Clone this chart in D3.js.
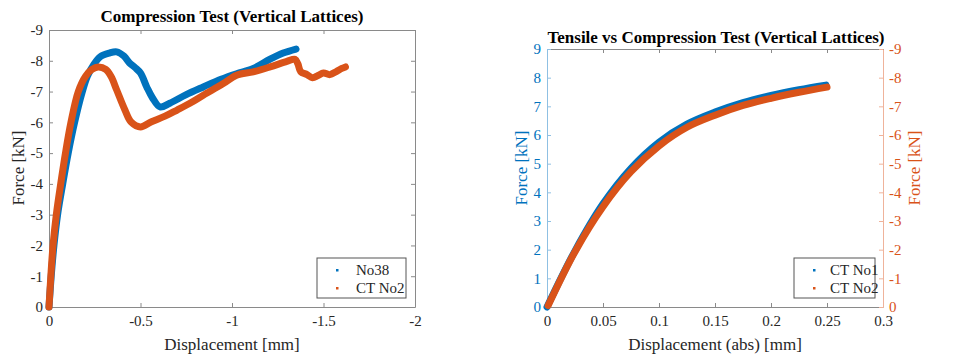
<!DOCTYPE html>
<html>
<head>
<meta charset="utf-8">
<script src="https://cdn.jsdelivr.net/npm/d3@7"></script>
<style>
  body { margin: 0; background: #fff; }
  svg { font-family: "Liberation Serif", "Times New Roman", serif; }
</style>
</head>
<body>
<svg id="chart" width="967" height="358"></svg>
<script>
// ---- data ----
// left: compression test, displacement [mm] vs force [kN] (both negative)
let no38Disp  = [0, -0.012, -0.027, -0.047, -0.075, -0.105, -0.14, -0.18, -0.21, -0.245, -0.28, -0.33, -0.37, -0.41, -0.44, -0.47, -0.5, -0.534, -0.565, -0.607, -0.66, -0.75, -0.843, -0.94, -1.025, -1.116, -1.208, -1.28, -1.35];
let no38Force = [0, -1, -2, -3, -4, -5, -6, -6.95, -7.5, -7.88, -8.13, -8.25, -8.29, -8.15, -7.93, -7.78, -7.6, -7.15, -6.8, -6.5, -6.62, -6.9, -7.15, -7.4, -7.58, -7.75, -8.05, -8.25, -8.38];
let ct2CompDisp  = [0, -0.01, -0.022, -0.04, -0.064, -0.09, -0.12, -0.16, -0.2, -0.235, -0.27, -0.31, -0.34, -0.37, -0.415, -0.45, -0.5, -0.56, -0.634, -0.7, -0.77, -0.843, -0.95, -1.025, -1.116, -1.208, -1.3, -1.344, -1.36, -1.375, -1.41, -1.44, -1.47, -1.5, -1.535, -1.57, -1.6, -1.62];
let ct2CompForce = [0, -1, -2, -3, -4, -5, -6, -7, -7.5, -7.72, -7.8, -7.72, -7.48, -7.05, -6.4, -6.0, -5.85, -6.02, -6.2, -6.4, -6.62, -6.88, -7.25, -7.53, -7.64, -7.8, -7.98, -8.05, -7.9, -7.65, -7.55, -7.45, -7.52, -7.6, -7.55, -7.65, -7.75, -7.8];

// right: tensile (left axis) vs compression (right axis), displacement (abs)
let ct1Disp  = [0, 0.025, 0.05, 0.075, 0.1, 0.125, 0.15, 0.175, 0.2, 0.225, 0.249];
let ct1Force = [0, 1.96, 3.6, 4.84, 5.75, 6.38, 6.8, 7.13, 7.38, 7.58, 7.74];
let ct2Disp  = [0.001, 0.025, 0.05, 0.075, 0.1, 0.125, 0.15, 0.175, 0.2, 0.225, 0.25];
let ct2Force = [-0.05, -1.93, -3.5, -4.72, -5.62, -6.27, -6.69, -7.03, -7.28, -7.49, -7.67];

let leftXTicks  = [0, -0.5, -1, -1.5, -2];
let leftYTicks  = [0, -1, -2, -3, -4, -5, -6, -7, -8, -9];
let rightXTicks = [0, 0.05, 0.1, 0.15, 0.2, 0.25, 0.3];
let rightY1Ticks = [0, 1, 2, 3, 4, 5, 6, 7, 8, 9];
let rightY2Ticks = [0, -1, -2, -3, -4, -5, -6, -7, -8, -9];

const BLUE = '#0072BD', ORANGE = '#D95319', TXT = '#262626', AX = '#8a8a8a';
const fmt = d => String(d);
let svg = d3.select('#chart');

function zip(xs, ys) { return xs.map((x, i) => [x, ys[i]]); }

function styleAxis(g, col, textCol) {
  g.select('.domain').attr('stroke', col);
  g.selectAll('.tick line').attr('stroke', col);
  g.selectAll('.tick text').attr('fill', textCol).attr('font-size', 15).attr('font-family', 'Liberation Serif');
}

function band(g, x, y, pts, col) {
  let line = d3.line().x(d => x(d[0])).y(d => y(d[1])).curve(d3.curveCatmullRom.alpha(0.5));
  g.append('path').datum(pts)
    .attr('fill', 'none').attr('stroke', col)
    .attr('stroke-width', 7).attr('stroke-linejoin', 'round').attr('stroke-linecap', 'round')
    .attr('d', line);
}

function legend(x0, y0, w, h, names) {
  let g = svg.append('g');
  g.append('rect').attr('x', x0).attr('y', y0).attr('width', w).attr('height', h)
    .attr('fill', '#fff').attr('stroke', '#555').attr('stroke-width', 1);
  names.forEach((n, i) => {
    let cy = y0 + 12 + i * 18;
    g.append('rect').attr('x', x0 + 19).attr('y', cy - 1).attr('width', 2.5).attr('height', 2.5).attr('fill', n[1]);
    g.append('text').attr('x', x0 + (w > 85 ? 39 : 36)).attr('y', cy + 5)
      .attr('font-size', 15).attr('fill', TXT).text(n[0]);
  });
}

// ---------- left chart ----------
{
  let x = d3.scaleLinear().domain([0, -2]).range([49, 415]);
  let y = d3.scaleLinear().domain([0, -9]).range([307, 30]);

  let gx = svg.append('g').attr('transform', 'translate(0,307)')
    .call(d3.axisBottom(x).tickValues(leftXTicks).tickFormat(fmt).tickSizeInner(-4).tickSizeOuter(0).tickPadding(8));
  styleAxis(gx, AX, TXT);
  let gt = svg.append('g').attr('transform', 'translate(0,30)')
    .call(d3.axisTop(x).tickValues(leftXTicks).tickFormat('').tickSizeInner(-4).tickSizeOuter(0));
  styleAxis(gt, AX, TXT);
  let gy = svg.append('g').attr('transform', 'translate(49,0)')
    .call(d3.axisLeft(y).tickValues(leftYTicks).tickFormat(fmt).tickSizeInner(-4).tickSizeOuter(0).tickPadding(6));
  styleAxis(gy, AX, TXT);
  let gr = svg.append('g').attr('transform', 'translate(415,0)')
    .call(d3.axisRight(y).tickValues(leftYTicks).tickFormat('').tickSizeInner(-4).tickSizeOuter(0));
  styleAxis(gr, AX, TXT);

  let plot = svg.append('g');
  band(plot, x, y, zip(no38Disp, no38Force), BLUE);
  band(plot, x, y, zip(ct2CompDisp, ct2CompForce), ORANGE);

  svg.append('text').attr('x', 232).attr('y', 22).attr('text-anchor', 'middle')
    .attr('font-size', 17).attr('font-weight', 'bold').attr('fill', '#000')
    .text('Compression Test (Vertical Lattices)');
  svg.append('text').attr('x', 232).attr('y', 350).attr('text-anchor', 'middle')
    .attr('font-size', 17).attr('fill', TXT).text('Displacement [mm]');
  svg.append('text').attr('transform', 'translate(24,168) rotate(-90)').attr('text-anchor', 'middle')
    .attr('font-size', 17).attr('fill', TXT).text('Force [kN]');

  legend(317, 258, 89, 40, [['No38', BLUE], ['CT No2', ORANGE]]);
}

// ---------- right chart ----------
{
  let x = d3.scaleLinear().domain([0, 0.3]).range([547, 883]);
  let y1 = d3.scaleLinear().domain([0, 9]).range([307, 49]);
  let y2 = d3.scaleLinear().domain([0, -9]).range([307, 49]);

  let gx = svg.append('g').attr('transform', 'translate(0,307)')
    .call(d3.axisBottom(x).tickValues(rightXTicks).tickFormat(fmt).tickSizeInner(-4).tickSizeOuter(0).tickPadding(8));
  styleAxis(gx, AX, TXT);
  let gt = svg.append('g').attr('transform', 'translate(0,49)')
    .call(d3.axisTop(x).tickValues(rightXTicks).tickFormat('').tickSizeInner(-4).tickSizeOuter(0));
  styleAxis(gt, AX, TXT);
  let gl = svg.append('g').attr('transform', 'translate(547,0)')
    .call(d3.axisLeft(y1).tickValues(rightY1Ticks).tickFormat(fmt).tickSizeInner(-4).tickSizeOuter(0).tickPadding(6));
  styleAxis(gl, '#8fc0e3', BLUE);
  let gr = svg.append('g').attr('transform', 'translate(883,0)')
    .call(d3.axisRight(y2).tickValues(rightY2Ticks).tickFormat(fmt).tickSizeInner(-4).tickSizeOuter(0).tickPadding(6));
  styleAxis(gr, '#efb39b', ORANGE);

  let plot = svg.append('g');
  band(plot, x, y1, zip(ct1Disp, ct1Force), BLUE);
  band(plot, x, y2, zip(ct2Disp, ct2Force), ORANGE);

  svg.append('text').attr('x', 716).attr('y', 43).attr('text-anchor', 'middle')
    .attr('font-size', 17).attr('font-weight', 'bold').attr('fill', '#000')
    .text('Tensile vs Compression Test (Vertical Lattices)');
  svg.append('text').attr('x', 715).attr('y', 350).attr('text-anchor', 'middle')
    .attr('font-size', 17).attr('fill', TXT).text('Displacement (abs) [mm]');
  svg.append('text').attr('transform', 'translate(527,168) rotate(-90)').attr('text-anchor', 'middle')
    .attr('font-size', 17).attr('fill', BLUE).text('Force [kN]');
  svg.append('text').attr('transform', 'translate(920,168) rotate(-90)').attr('text-anchor', 'middle')
    .attr('font-size', 17).attr('fill', ORANGE).text('Force [kN]');

  legend(794, 258, 81, 40, [['CT No1', BLUE], ['CT No2', ORANGE]]);
}
</script>
</body>
</html>
